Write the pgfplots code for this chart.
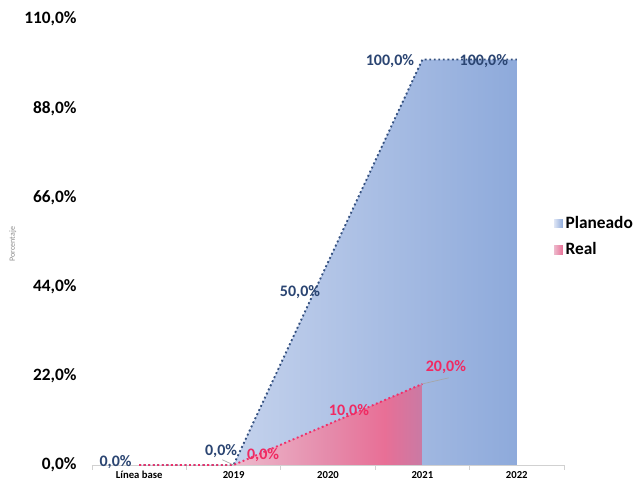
\documentclass[border=0pt]{standalone}
\usepackage{pgfplots}
\pgfplotsset{compat=1.18}
\usepackage{fontspec}
\setmainfont{Carlito}
\definecolor{lblue}{HTML}{D6DFF2}
\definecolor{dblue}{HTML}{8EAADB}
\definecolor{lineblue}{HTML}{34507F}
\definecolor{labblue}{HTML}{2B4572}
\definecolor{pinkline}{HTML}{F0306A}
\definecolor{pinklab}{HTML}{F02A62}
\definecolor{p1}{HTML}{EDB9CC}
\definecolor{p2}{HTML}{E58BAB}
\definecolor{p3}{HTML}{E86F96}
\definecolor{p4}{HTML}{C97AA4}
\pgfdeclarehorizontalshading{realshade}{100bp}{color(0bp)=(p1); color(25bp)=(p1); color(50bp)=(p2); color(65bp)=(p3); color(75bp)=(p4); color(100bp)=(p4)}
\pgfdeclarehorizontalshading{planshade}{100bp}{color(0bp)=(lblue); color(25bp)=(lblue); color(75bp)=(dblue); color(100bp)=(dblue)}
\begin{document}
\begin{tikzpicture}
\useasboundingbox (0,0) rectangle (477.75pt,362.25pt);
\begin{axis}[
  at={(69pt,13.5pt)}, anchor=south west,
  scale only axis, width=354pt, height=334.5pt,
  xmin=-0.5, xmax=4.5, ymin=0, ymax=110,
  axis x line=bottom, axis y line=left,
  x axis line style={-, draw=black!18, line width=0.6pt},
  y axis line style={draw=none},
  xtick={0,1,2,3,4},
  xticklabels={L\'inea base,2019,2020,2021,2022},
  minor xtick={-0.5,0.5,1.5,2.5,3.5,4.5},
  major tick length=0pt,
  minor tick length=3.5pt,
  tick align=outside,
  minor tick style={draw=black!18, line width=0.6pt},
  ytick={0,22,44,66,88,110},
  yticklabels={{0,0\%},{22,0\%},{44,0\%},{66,0\%},{88,0\%},{110,0\%}},
  ytick style={draw=none},
  yticklabel style={font=\fontsize{13}{15}\selectfont\bfseries, xshift=-8pt},
  xticklabel style={font=\fontsize{8}{9}\selectfont\bfseries, yshift=-3.4pt, inner ysep=1pt},
  ylabel={Porcentaje},
  ylabel style={at={(axis description cs:-0.168,0.495)}, anchor=center, font=\fontsize{6}{7}\selectfont, text=black!45},
  clip=false,
  legend style={at={(axis description cs:0.97,0.57)}, anchor=north west, draw=none, fill=none,
    font=\fontsize{13}{15}\selectfont\bfseries, row sep=5pt,
    legend image code/.code={\path[#1, draw=none] (0pt,-3.3pt) rectangle (6.6pt,3.3pt);}},
  legend cell align=left,
]
\addplot[draw=none, shading=planshade, forget plot] coordinates {(0,0) (1,0) (2,50) (3,100) (4,100)} \closedcycle;
\addplot[lineblue, line width=1.4pt, dotted, forget plot] coordinates {(0,0) (1,0) (2,50) (3,100) (4,100)};
\addplot[draw=none, shading=realshade, forget plot] coordinates {(1,0) (2,10) (3,20)} \closedcycle;
\addplot[pinkline, line width=1.4pt, dotted, forget plot] coordinates {(0,0) (1,0) (2,10) (3,20)};
\addlegendimage{left color=lblue!80!white, right color=dblue}
\addlegendentry{Planeado}
\addlegendimage{left color=p1, right color=p3}
\addlegendentry{Real}
\draw[black!35, line width=0.5pt] (axis cs:0.88,1.3) -- (axis cs:1,0);
\draw[black!35, line width=0.5pt] (axis cs:3,20) -- (axis cs:3.28,21.5);
\begin{scope}[every node/.style={font=\fontsize{12}{14}\selectfont\bfseries, inner sep=0pt}]
\node[text=labblue] at (axis cs:-0.25,0.7) {0,0\%};
\node[text=labblue] at (axis cs:0.868,3.45) {0,0\%};
\node[text=labblue] at (axis cs:1.704,42.7) {50,0\%};
\node[text=labblue] at (axis cs:2.656,99.6) {100,0\%};
\node[text=labblue] at (axis cs:3.651,99.6) {100,0\%};
\node[text=pinklab] at (axis cs:1.312,2.47) {0,0\%};
\node[text=pinklab] at (axis cs:2.222,13.3) {10,0\%};
\node[text=pinklab] at (axis cs:3.249,24.2) {20,0\%};
\end{scope}
\end{axis}
\end{tikzpicture}
\end{document}
